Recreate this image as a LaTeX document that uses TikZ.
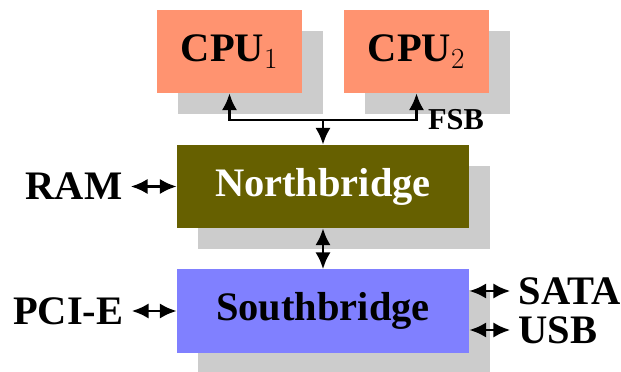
\documentclass[tikz,border=0pt]{standalone}
\usepackage{fontspec}
\setmainfont{Liberation Serif}
\usepackage{xcolor}
\definecolor{cpucolor}{RGB}{255,147,112}
\definecolor{nbcolor}{RGB}{102,96,0}
\definecolor{sbcolor}{RGB}{128,128,255}
\usepackage{tikz}
\usetikzlibrary{arrows.meta}
\usetikzlibrary{shadows}
\usetikzlibrary{positioning}

\begin{document}
\begin{tikzpicture}[every node/.style={font=\fontsize{28.8}{34}\selectfont\bfseries},
  chip/.style={rectangle, inner sep=0pt, minimum height=2.075cm,
    drop shadow={shadow xshift=0.525cm, shadow yshift=-0.525cm, fill=black!20, opacity=1}},
  port/.style={inner sep=0.2cm},
  paths/.style={{Latex[length=0.42cm,width=0.38cm]}-{Latex[length=0.42cm,width=0.38cm]}, line width=2pt},
  down/.style={-{Latex[length=0.42cm,width=0.38cm]}, line width=2pt}]

 \useasboundingbox (0,0) rectangle (15.525,-9.3);


 \node [chip, fill=cpucolor, minimum width=3.625cm] (cpu_1) at (5.7375,-1.2875)
     {CPU$_1$};

 \node [chip, fill=cpucolor, minimum width=3.625cm] (cpu_2) at (10.4125,-1.2875)
     {CPU$_2$};

 \node [chip, fill=nbcolor, text=white, minimum width=7.3cm] (northbridge) at (8.075,-4.6625)
     {Northbridge};

 \node [chip, fill=sbcolor, minimum width=7.3cm] (southbridge) at (8.075,-7.775)
     {Southbridge};

 \coordinate (fsb_bus) at (8.075,-3.0);

 \node [inner sep=0pt, font=\fontsize{21.6}{26}\selectfont\bfseries] (fsb) at (11.4,-3.0)
     {FSB};

 \node [port, left=1.15cm of northbridge] (ram) {RAM};

 \node [port, left=1.125cm of southbridge] (pcie) {PCI-E};

 \node [port, anchor=west] (sata) at ([xshift=1.025cm, yshift=0.5cm]southbridge.east) {SATA};

 \node [port, anchor=west] (usb) at ([xshift=1.025cm, yshift=-0.475cm]southbridge.east) {USB};



 \draw [paths] (cpu_1) |- (fsb_bus) -| (cpu_2);
 \draw [down] (fsb_bus) -- (northbridge);
 \draw [paths] (northbridge) -- (southbridge);
 \draw [paths] (ram) -- (northbridge);
 \draw [paths] (pcie) -- (southbridge);
 \draw [paths] (sata) -- (sata -| southbridge.east);
 \draw [paths] (usb) -- (usb -| southbridge.east);


\end{tikzpicture}
\end{document}
